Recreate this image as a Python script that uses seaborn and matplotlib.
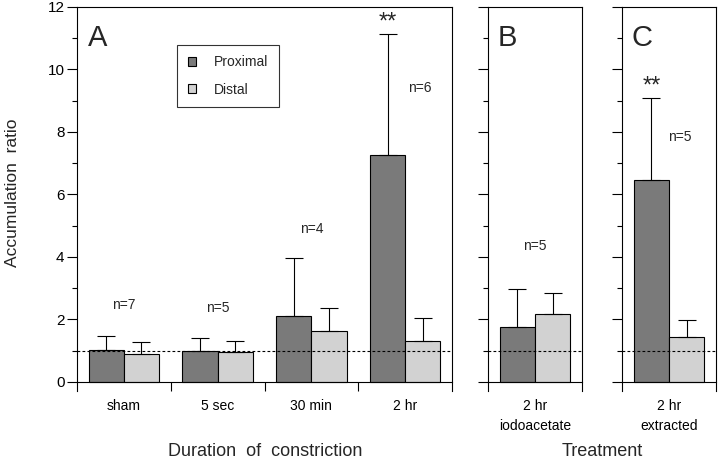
import matplotlib
matplotlib.use('Agg')
import matplotlib.pyplot as plt
import seaborn as sns
import pandas as pd

# ---------------- data ----------------
sides = ['Proximal', 'Distal']

conds_A = ['sham', '5 sec', '30 min', '2 hr']
prox_A = [1.02, 1.00, 2.10, 7.26]
prox_A_err = [0.46, 0.42, 1.86, 3.86]
dist_A = [0.88, 0.95, 1.63, 1.31]
dist_A_err = [0.39, 0.36, 0.73, 0.74]

conds_B = ['2 hr\niodoacetate']
prox_B = [1.77]
prox_B_err = [1.22]
dist_B = [2.18]
dist_B_err = [0.66]

conds_C = ['2 hr\nextracted']
prox_C = [6.46]
prox_C_err = [2.64]
dist_C = [1.44]
dist_C_err = [0.55]

n_labels_A = ['n=7', 'n=5', 'n=4', 'n=6']
n_labels_B = ['n=5']
n_labels_C = ['n=5']

reference_level = 1.0

# ---------------- style ----------------
sns.set_theme(style='ticks')
plt.rcParams['font.family'] = ['Liberation Sans', 'DejaVu Sans']
plt.rcParams['axes.edgecolor'] = 'black'
plt.rcParams['axes.linewidth'] = 0.8
plt.rcParams['xtick.color'] = 'black'
plt.rcParams['ytick.color'] = 'black'

palette = {'Proximal': '#7a7a7a', 'Distal': '#d2d2d2'}

W, H = 720, 462
fig = plt.figure(figsize=(W / 100, H / 100), dpi=100)

top_px, bot_px = 7, 391
def ax_rect(left, width):
    return [left / W, 1 - bot_px / H, width / W, (bot_px - top_px) / H]

axA = fig.add_axes(ax_rect(77, 375))
axB = fig.add_axes(ax_rect(488, 94))
axC = fig.add_axes(ax_rect(622, 94))


def panel(ax, conds, prox, prox_err, dist, dist_err, show_legend, show_ylabels):
    df = pd.DataFrame({
        'cond': conds * 2,
        'side': ['Proximal'] * len(conds) + ['Distal'] * len(conds),
        'value': prox + dist,
    })
    sns.barplot(data=df, x='cond', y='value', hue='side', hue_order=sides,
                palette=palette, width=0.75, errorbar=None, saturation=1,
                edgecolor='black', linewidth=0.8, ax=ax, legend=show_legend)
    for cont, errs in zip(ax.containers, [prox_err, dist_err]):
        for bar, e in zip(cont, errs):
            xc = bar.get_x() + bar.get_width() / 2
            ax.errorbar(xc, bar.get_height(), yerr=[[0], [e]], fmt='none',
                        ecolor='black', elinewidth=0.8, capsize=6.5,
                        capthick=0.8, zorder=1)
    n = len(conds)
    ax.set_xlim(-0.5, n - 0.5)
    ax.set_ylim(-0.29, 12)
    ax.set_yticks(range(0, 13, 2))
    ax.set_yticks(range(1, 12, 2), minor=True)
    ax.set_xticks([i + 0.5 for i in range(n - 1)], minor=True)
    ax.spines['bottom'].set_position(('data', 0))
    ax.tick_params(axis='y', which='major', length=7, width=0.8,
                   labelsize=11, pad=2, labelleft=show_ylabels)
    ax.tick_params(axis='y', which='minor', length=3.3, width=0.8, left=True)
    ax.tick_params(axis='x', which='major', length=0, labelsize=10, pad=12)
    ax.tick_params(axis='x', which='minor', length=6.5, width=0.8, bottom=True)
    ax.set_xlabel('')
    ax.set_ylabel('')
    ax.axhline(reference_level, color='black', lw=0.8, ls=(0, (2.5, 2)), zorder=5)
    for lab in ax.get_xticklabels():
        lab.set_linespacing(1.55)


panel(axA, conds_A, prox_A, prox_A_err, dist_A, dist_A_err, True, True)
panel(axB, conds_B, prox_B, prox_B_err, dist_B, dist_B_err, False, False)
panel(axC, conds_C, prox_C, prox_C_err, dist_C, dist_C_err, False, False)

sns.move_legend(axA, 'upper left', bbox_to_anchor=(0.267, 0.901), title=None,
                frameon=True, fontsize=10, handlelength=0.6, handleheight=0.6,
                labelspacing=0.95, borderpad=0.75, handletextpad=1.3,
                fancybox=False, edgecolor='black', borderaxespad=0)
axA.get_legend().get_frame().set_linewidth(0.8)

# panel letters
for ax, letter, xf in [(axA, 'A', 0.03), (axB, 'B', 0.1), (axC, 'C', 0.1)]:
    ax.text(xf, 0.955, letter, transform=ax.transAxes, fontsize=21,
            ha='left', va='top')

# n labels and significance marks
half = 0.1875
nfs = 10
for i, (lab, y) in enumerate(zip(n_labels_A, [2.45, 2.37, 4.9, 9.4])):
    dx = 0.155 if i == 3 else 0.0
    axA.text(i + dx, y, lab, ha='center', va='center', fontsize=nfs)
axB.text(0, 4.35, n_labels_B[0], ha='center', va='center', fontsize=nfs)
axC.text(0.117, 7.84, n_labels_C[0], ha='center', va='center', fontsize=nfs)
axA.text(3 - half, 11.5, '**', ha='center', va='center', fontsize=17)
axC.text(0 - half, 9.45, '**', ha='center', va='center', fontsize=17)

# axis titles
fig.text(13 / W, 1 - 193 / H, 'Accumulation  ratio', rotation=90,
         ha='center', va='center', fontsize=12.5)
fig.text(265 / W, 1 - 452 / H, 'Duration  of  constriction',
         ha='center', va='center', fontsize=13)
fig.text(602 / W, 1 - 452 / H, 'Treatment', ha='center', va='center',
         fontsize=13)

fig.savefig('out.png', dpi=100)
